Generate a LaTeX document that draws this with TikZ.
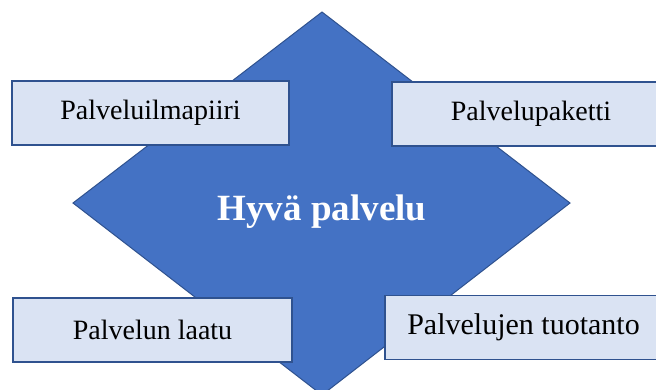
\documentclass[tikz,border=0pt]{standalone}
\usepackage{fontspec}
\setmainfont{Liberation Serif}
\definecolor{dia}{HTML}{4472C4}
\definecolor{diaedge}{HTML}{2F528F}
\definecolor{boxfill}{HTML}{DAE3F3}
\begin{document}
\begin{tikzpicture}[x=1pt,y=-1pt,
  infobox/.style={draw=diaedge, line width=1.5pt, fill=boxfill, minimum height=64pt, inner sep=0pt, font=\fontsize{28}{30}\selectfont, text=black}]
\useasboundingbox (0,0) rectangle (656,389);
\coordinate (T) at (322,12);
\coordinate (L) at (73,203);
\coordinate (R) at (570,203);
\coordinate (B) at (322,395);
\fill[dia] (T) -- (R) -- (B) -- (L) -- cycle;
\draw[diaedge, line width=1pt, line join=miter] (T) -- (R) -- (B) -- (L) -- cycle;
\node[text=white, font=\bfseries\fontsize{37}{40}\selectfont] (center) at (322,212) {Hyvä palvelu};
\node[infobox, minimum width=277pt] (a) at (150.5,113) {Palveluilmapiiri};
\node[infobox, minimum width=278pt] (b) at (531,114) {Palvelupaketti};
\node[infobox, minimum width=279pt] (c) at (152.5,330) {Palvelun laatu};
\node[infobox, minimum width=277pt, font=\fontsize{30}{32}\selectfont] (d) at (523.5,327.5) {Palvelujen tuotanto};
\end{tikzpicture}
\end{document}
